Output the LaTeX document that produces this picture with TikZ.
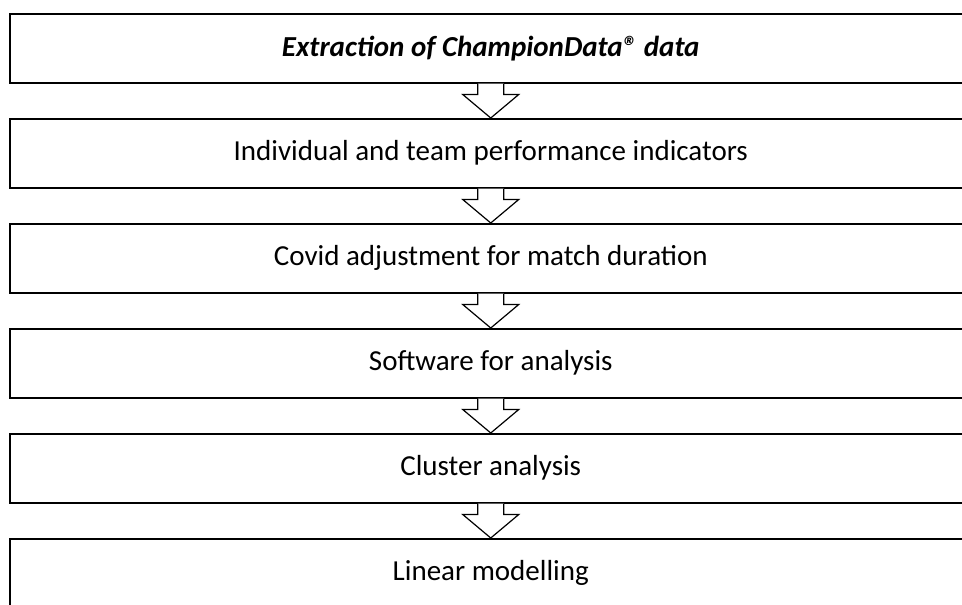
\documentclass[tikz,border=0pt]{standalone}
\usepackage{fontspec}
\setmainfont{Carlito}
\usetikzlibrary{calc}
\begin{document}
\begin{tikzpicture}[x=1pt,y=-1pt,
  stagebox/.style={draw=black, line width=1.5pt, fill=white, minimum width=962pt, minimum height=69pt, inner sep=0pt, anchor=north west, font=\fontsize{29}{34}\selectfont},
  flowarrow/.style={draw=black, line width=1.2pt, fill=white, line join=miter}]
\useasboundingbox (0,0) rectangle (962,605);
\clip (0,0) rectangle (962,605);
\node[stagebox] (b1) at (9,13) {\textbf{\textit{Extraction of ChampionData® data}}};
\node[stagebox] (b2) at (9,118) {Individual and team performance indicators};
\node[stagebox] (b3) at (9,223) {Covid adjustment for match duration};
\node[stagebox] (b4) at (9,328) {Software for analysis};
\node[stagebox] (b5) at (9,433) {Cluster analysis};
\node[stagebox] (b6) at (9,538) {Linear modelling};
\foreach \a/\b in {b1/b2,b2/b3,b3/b4,b4/b5,b5/b6}{
  \draw[flowarrow] ($(\a.south)+(-13,0)$) -- ++(0,11) -- ++(-15,0) -- (\b.north) -- ($(\a.south)+(28,11)$) -- ++(-15,0) -- ($(\a.south)+(13,0)$);
}
\end{tikzpicture}
\end{document}
